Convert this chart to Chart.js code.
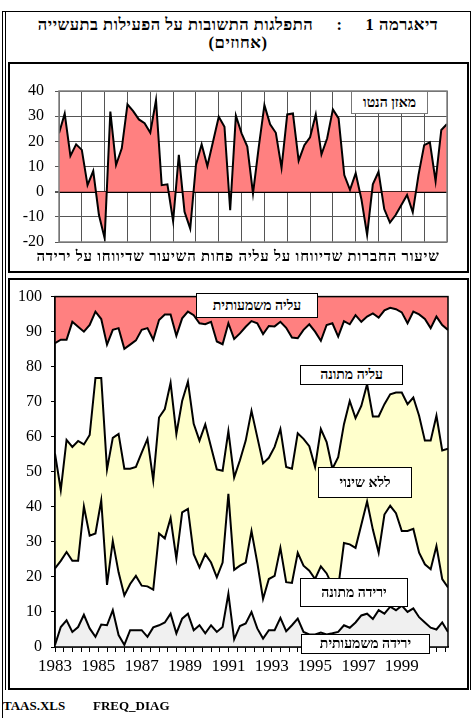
<!DOCTYPE html>
<html><head><meta charset="utf-8">
<script src="https://cdn.jsdelivr.net/npm/chart.js@4.4.1/dist/chart.umd.min.js"></script>
<style>
html,body{margin:0;padding:0;background:#fff;}
body{width:475px;height:718px;position:relative;overflow:hidden;font-family:"Liberation Serif","Times New Roman",serif;color:#000;}
.abs{position:absolute;}
.box{border:2px solid #000;box-sizing:border-box;}
.title{left:8px;width:460px;top:16px;text-align:center;direction:rtl;font-weight:bold;font-size:16.5px;letter-spacing:0.5px;line-height:18px;white-space:pre;}
.lab{background:#fff;border:1px solid #000;box-sizing:border-box;direction:rtl;font-weight:bold;font-size:14px;display:flex;align-items:center;justify-content:center;white-space:nowrap;}
</style>
</head><body>
<div class="abs" style="left:2px;top:11px;width:1px;height:707px;background:#000"></div>
<div class="abs" style="left:5px;top:11px;width:1px;height:679px;background:#000"></div>
<div class="abs" style="left:2px;top:11px;width:469px;height:1px;background:#000"></div>
<div class="abs" style="left:470px;top:11px;width:1px;height:679px;background:#000"></div>
<div class="abs title">דיאגרמה 1     :     התפלגות התשובות על הפעילות בתעשייה
(אחוזים)</div>

<div class="abs box" style="left:8px;top:62px;width:461px;height:211px"></div>
<div class="abs" style="left:8px;top:63px;width:460px;height:210px"><canvas id="c1" width="460" height="210"></canvas></div>
<div class="abs lab" style="left:351px;top:91px;width:77px;height:23px;border-color:#777">מאזן הנטו</div>
<div class="abs" style="left:10px;width:456px;top:248px;text-align:center;direction:rtl;font-weight:bold;font-size:15px;letter-spacing:0.75px;white-space:nowrap">שיעור החברות שדיווחו על עליה פחות השיעור שדיווחו על ירידה</div>

<div class="abs box" style="left:8px;top:278px;width:461px;height:412px"></div>
<div class="abs" style="left:8px;top:278px;width:460px;height:411px"><canvas id="c2" width="460" height="411"></canvas></div>
<div class="abs lab" style="left:196px;top:293px;width:122px;height:25px">עליה משמעותית</div>
<div class="abs lab" style="left:300px;top:365px;width:103px;height:20px">עליה מתונה</div>
<div class="abs lab" style="left:318px;top:467px;width:94px;height:31px">ללא שינוי</div>
<div class="abs lab" style="left:300px;top:578px;width:108px;height:29px">ירידה מתונה</div>
<div class="abs lab" style="left:301px;top:634px;width:129px;height:20px">ירידה משמעותית</div>

<div class="abs" style="left:3px;top:698px;font-weight:bold;font-size:13px">TAAS.XLS</div>
<div class="abs" style="left:93px;top:698px;font-weight:bold;font-size:13px">FREQ_DIAG</div>

<script>
// Quarterly observations, 1983 Q1 .. 2000 Q1
const netBalance = [23.2,31,14.2,18.8,16.6,2.6,8.2,-9.3,-18.5,31.8,10.6,17.2,34.7,32,28.7,27.2,23.4,36.4,2.6,2.9,-11.7,14.6,-8,-14.7,10.6,18.8,10.2,19.9,29.8,25.8,-7.4,30.2,23.2,17.9,-0.7,17.6,34.4,26.8,23.4,9.5,30.7,31.1,12.3,18.5,21.6,30.7,14.8,21.2,32.7,29.1,6.6,0.7,7.3,-3,-17.2,2.9,7.9,-6.9,-12.3,-9.3,-5.3,-1.3,-8.2,6.6,18.5,19.6,4.2,24.5,26.9];
// cumulative boundaries of the stacked shares (percent)
const sigDownTop = [0.6,5.7,7.6,4.3,5.7,9.2,5.3,2.9,6.4,6.2,10.5,3.4,0.6,4.8,4.8,4.8,2.9,5.6,
  6.2,7.0,9.5,3.9,8.1,9.5,4.8,6.2,3.9,6.2,4.3,5.7,15.2,2.2,6.0,6.7,10.0,
  5.3,2.4,4.8,4.8,8.3,4.5,6.2,8.1,4.3,3.6,3.6,4.1,3.6,3.9,4.3,
  6.2,5.5,7.0,9.0,9.5,8.0,10.5,9.5,11.5,10.5,11.8,10.0,11.0,8.5,7.0,5.5,5.0,7.0,4.3];
const modDownTop = [22.4,24.6,27.1,24.6,24.6,40.1,31.8,32.4,41.8,17.7,30.2,21.3,14.7,18.0,20.3,17.5,17.3,16.4,
  32.4,31,36.8,25.2,38.4,39.4,26.5,22.7,26.5,24.1,19.9,24.1,43.7,22.0,23.2,24.1,33.1,
  24.1,13.7,19.4,20.3,28.3,18.5,18.3,26.9,23.2,21.8,19.4,23.0,21.0,17.5,17.0,
  29.7,29.3,28.3,34.9,41.5,33.5,26.9,37.8,40.3,38.2,33.1,33.1,33.7,26.9,23.6,22.2,28.8,19.4,17.0];
const noChangeTop = [55.2,44.8,59.1,57.1,58.8,57.8,60.5,76.8,76.8,50.7,59.7,60.8,50.9,50.9,51.4,55.5,59.4,47.6,
  65.5,67.9,75.4,60.8,70.2,75.7,63.7,58.9,63.5,57.1,50.7,50.3,61.6,48.4,53.3,58.9,67.4,
  59.9,52.4,54.0,57.1,62.2,51.4,50.9,61.0,59.4,57.3,51.4,62.2,58.5,50.9,54.2,
  63.6,70.2,65.3,68.8,75.0,65.8,65.8,69.3,72.1,72.6,72.6,69.3,71.2,66.0,58.9,58.9,66.0,56.1,56.6];
const modUpTop = [86.7,87.7,87.7,92.8,91.4,90.0,91.9,95.7,93.6,86.3,90.5,91.0,85.1,86.3,87.5,90.5,91.0,87.7,
  93.3,94.9,94.9,88.8,93.8,95.7,94.7,92.4,92.1,92.8,87.2,86.4,92.4,87.9,89.5,91.4,93.0,
  92.4,89.3,91.6,91.5,92.8,91.1,88.3,88.1,90.5,92.1,90.0,87.4,91.9,92.4,88.6,
  93.0,92.1,94.7,92.8,94.3,95.2,94.0,96.1,96.8,96.4,95.5,92.4,95.7,94.9,93.6,91.0,94.3,91.9,90.5];
const yearLabels = ['1983','1985','1987','1989','1991','1993','1995','1997','1999'];

const pts = arr => arr.map((v,i)=>({x:i,y:v}));
const serif = 'Liberation Serif';

const frame = color => ({
  id:'frame'+color.replace('#',''),
  afterDraw(chart){
    const a = chart.chartArea, c = chart.ctx;
    c.save(); c.strokeStyle = color; c.lineWidth = 1.5;
    c.strokeRect(a.left, a.top, a.right-a.left, a.bottom-a.top);
    c.restore();
  }
});

new Chart(document.getElementById('c1'), {
  type:'line',
  data:{datasets:[{data:pts(netBalance), borderColor:'#000', borderWidth:2, backgroundColor:'#FF8080',
    fill:'origin', pointRadius:0, tension:0}]},
  options:{
    responsive:false, animation:false, events:[],
    layout:{padding:{left:0,right:21,top:28,bottom:31}},
    plugins:{legend:{display:false}, tooltip:{enabled:false}},
    scales:{
      x:{type:'linear', min:0, max:68, z:1,
        ticks:{display:false, stepSize:4},
        grid:{color:'#555', lineWidth:1, drawTicks:false},
        border:{display:false},
        afterFit(s){ s.height = 0; }},
      y:{min:-20, max:40, z:1,
        ticks:{stepSize:10, font:{family:serif, size:16}, color:'#000', padding:11},
        grid:{color:c=>c.tick && c.tick.value===0 ? '#000' : '#555',
              lineWidth:c=>c.tick && c.tick.value===0 ? 2 : 1,
              tickLength:4, tickColor:'#555'},
        border:{display:false},
        afterFit(s){ s.width = 51; }}
    }
  },
  plugins:[frame('#808080')]
});

new Chart(document.getElementById('c2'), {
  type:'line',
  data:{datasets:[
    {data:pts(sigDownTop), borderColor:'#000', borderWidth:2, backgroundColor:'#F0F0F0', fill:'origin', pointRadius:0, tension:0},
    {data:pts(modDownTop), borderColor:'#000', borderWidth:2, fill:false, pointRadius:0, tension:0},
    {data:pts(noChangeTop), borderColor:'#000', borderWidth:2, backgroundColor:'#FFFFCC', fill:{target:1}, pointRadius:0, tension:0},
    {data:pts(modUpTop), borderColor:'#000', borderWidth:2, backgroundColor:'#FF8080', fill:'end', pointRadius:0, tension:0}
  ]},
  options:{
    responsive:false, animation:false, events:[],
    layout:{padding:{left:0,right:20,top:15,bottom:0}},
    plugins:{legend:{display:false}, tooltip:{enabled:false}},
    scales:{
      x:{type:'linear', min:0, max:68,
        afterBuildTicks(s){ const t=[]; for(let k=0;k*1.5<=68;k++) t.push({value:k*1.5}); s.ticks=t; },
        ticks:{autoSkip:false, maxRotation:0, minRotation:0, padding:4, color:'#000',
          font:{family:serif, size:17},
          callback:(v,i)=> (i%5===0 && yearLabels[i/5]) ? yearLabels[i/5] : ''},
        grid:{drawOnChartArea:false, tickLength:5, color:'#000'},
        border:{color:'#000', width:1.5},
        afterFit(s){ s.height = 42; }},
      y:{min:0, max:100,
        ticks:{stepSize:10, font:{family:serif, size:16}, color:'#000', padding:9},
        grid:{drawOnChartArea:false, tickLength:4, color:'#000'},
        border:{color:'#000', width:1.5},
        afterFit(s){ s.width = 47; }}
    }
  },
  plugins:[frame('#000')]
});
</script>
</body></html>
